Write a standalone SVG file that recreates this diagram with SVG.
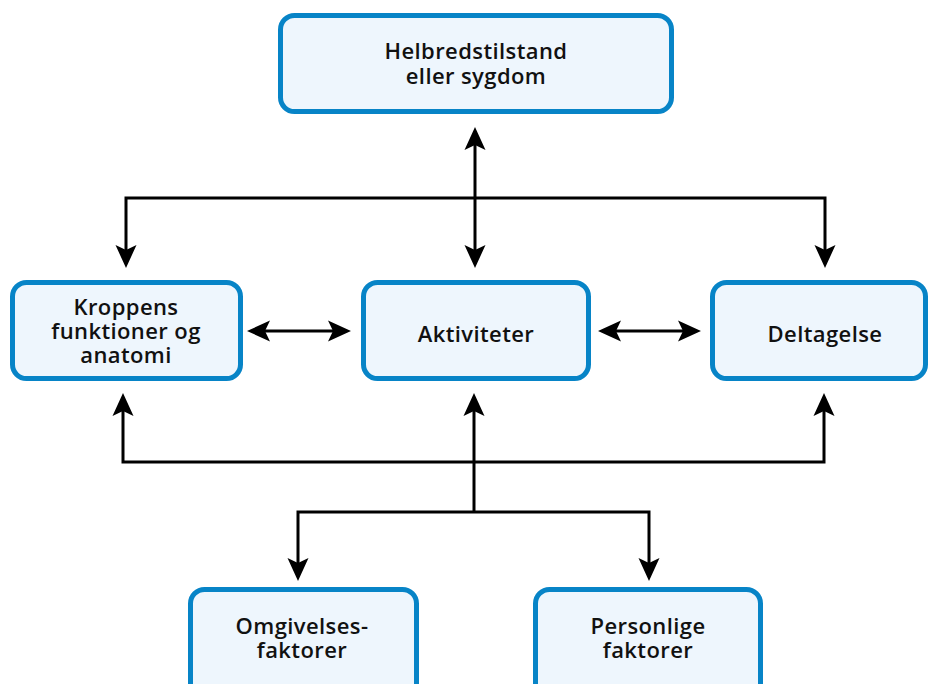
<svg xmlns="http://www.w3.org/2000/svg" width="928" height="684" viewBox="0 0 928 684">
<style>
.box{fill:#EEF6FD;stroke:#0784C7;stroke-width:5}
.t{font-family:"Open Sans","Liberation Sans",sans-serif;font-weight:600;font-size:22px;letter-spacing:0.4px;fill:#111;text-anchor:middle}
.c{fill:none;stroke:#000;stroke-width:3}
</style>
<defs>
<marker id="ah" markerUnits="userSpaceOnUse" viewBox="-6 -12 26 24" refX="0" refY="0" markerWidth="26" markerHeight="24" orient="auto-start-reverse" overflow="visible">
<path d="M18,0 L-5,-10.5 L0,0 L-5,10.5 Z" fill="#000"/>
</marker>
</defs>
<rect width="928" height="684" fill="#fff"/>
<g id="connectors">
<path class="c" d="M475,145 V250" marker-start="url(#ah)" marker-end="url(#ah)"/>
<path class="c" d="M126,250 V198 H825 V250" marker-start="url(#ah)" marker-end="url(#ah)"/>
<path class="c" d="M265,331 H333" marker-start="url(#ah)" marker-end="url(#ah)"/>
<path class="c" d="M616,331 H683" marker-start="url(#ah)" marker-end="url(#ah)"/>
<path class="c" d="M123,411 V462 H824 V411" marker-start="url(#ah)" marker-end="url(#ah)"/>
<path class="c" d="M474,512 V411" marker-end="url(#ah)"/>
<path class="c" d="M298,563 V512 H649 V563" marker-start="url(#ah)" marker-end="url(#ah)"/>
</g>
<g id="helbred">
<rect class="box" x="280.5" y="15.5" width="391" height="96" rx="14"/>
<text class="t" x="476" y="59">Helbredstilstand</text>
<text class="t" x="476" y="84">eller sygdom</text>
</g>
<g id="kroppens">
<rect class="box" x="12.5" y="282.5" width="228" height="96" rx="14"/>
<text class="t" x="126" y="315">Kroppens</text>
<text class="t" x="126" y="339">funktioner og</text>
<text class="t" x="126" y="363">anatomi</text>
</g>
<g id="aktiviteter">
<rect class="box" x="363.5" y="282.5" width="225" height="96" rx="14"/>
<text class="t" x="476" y="342">Aktiviteter</text>
</g>
<g id="deltagelse">
<rect class="box" x="712.5" y="282.5" width="213" height="96" rx="14"/>
<text class="t" x="825" y="342">Deltagelse</text>
</g>
<g id="omgivelses">
<rect class="box" x="190.5" y="589.5" width="226" height="110" rx="14"/>
<text class="t" x="302" y="634">Omgivelses-</text>
<text class="t" x="302" y="658">faktorer</text>
</g>
<g id="personlige">
<rect class="box" x="535.5" y="589.5" width="225" height="110" rx="14"/>
<text class="t" x="648" y="634">Personlige</text>
<text class="t" x="648" y="658">faktorer</text>
</g>
</svg>
